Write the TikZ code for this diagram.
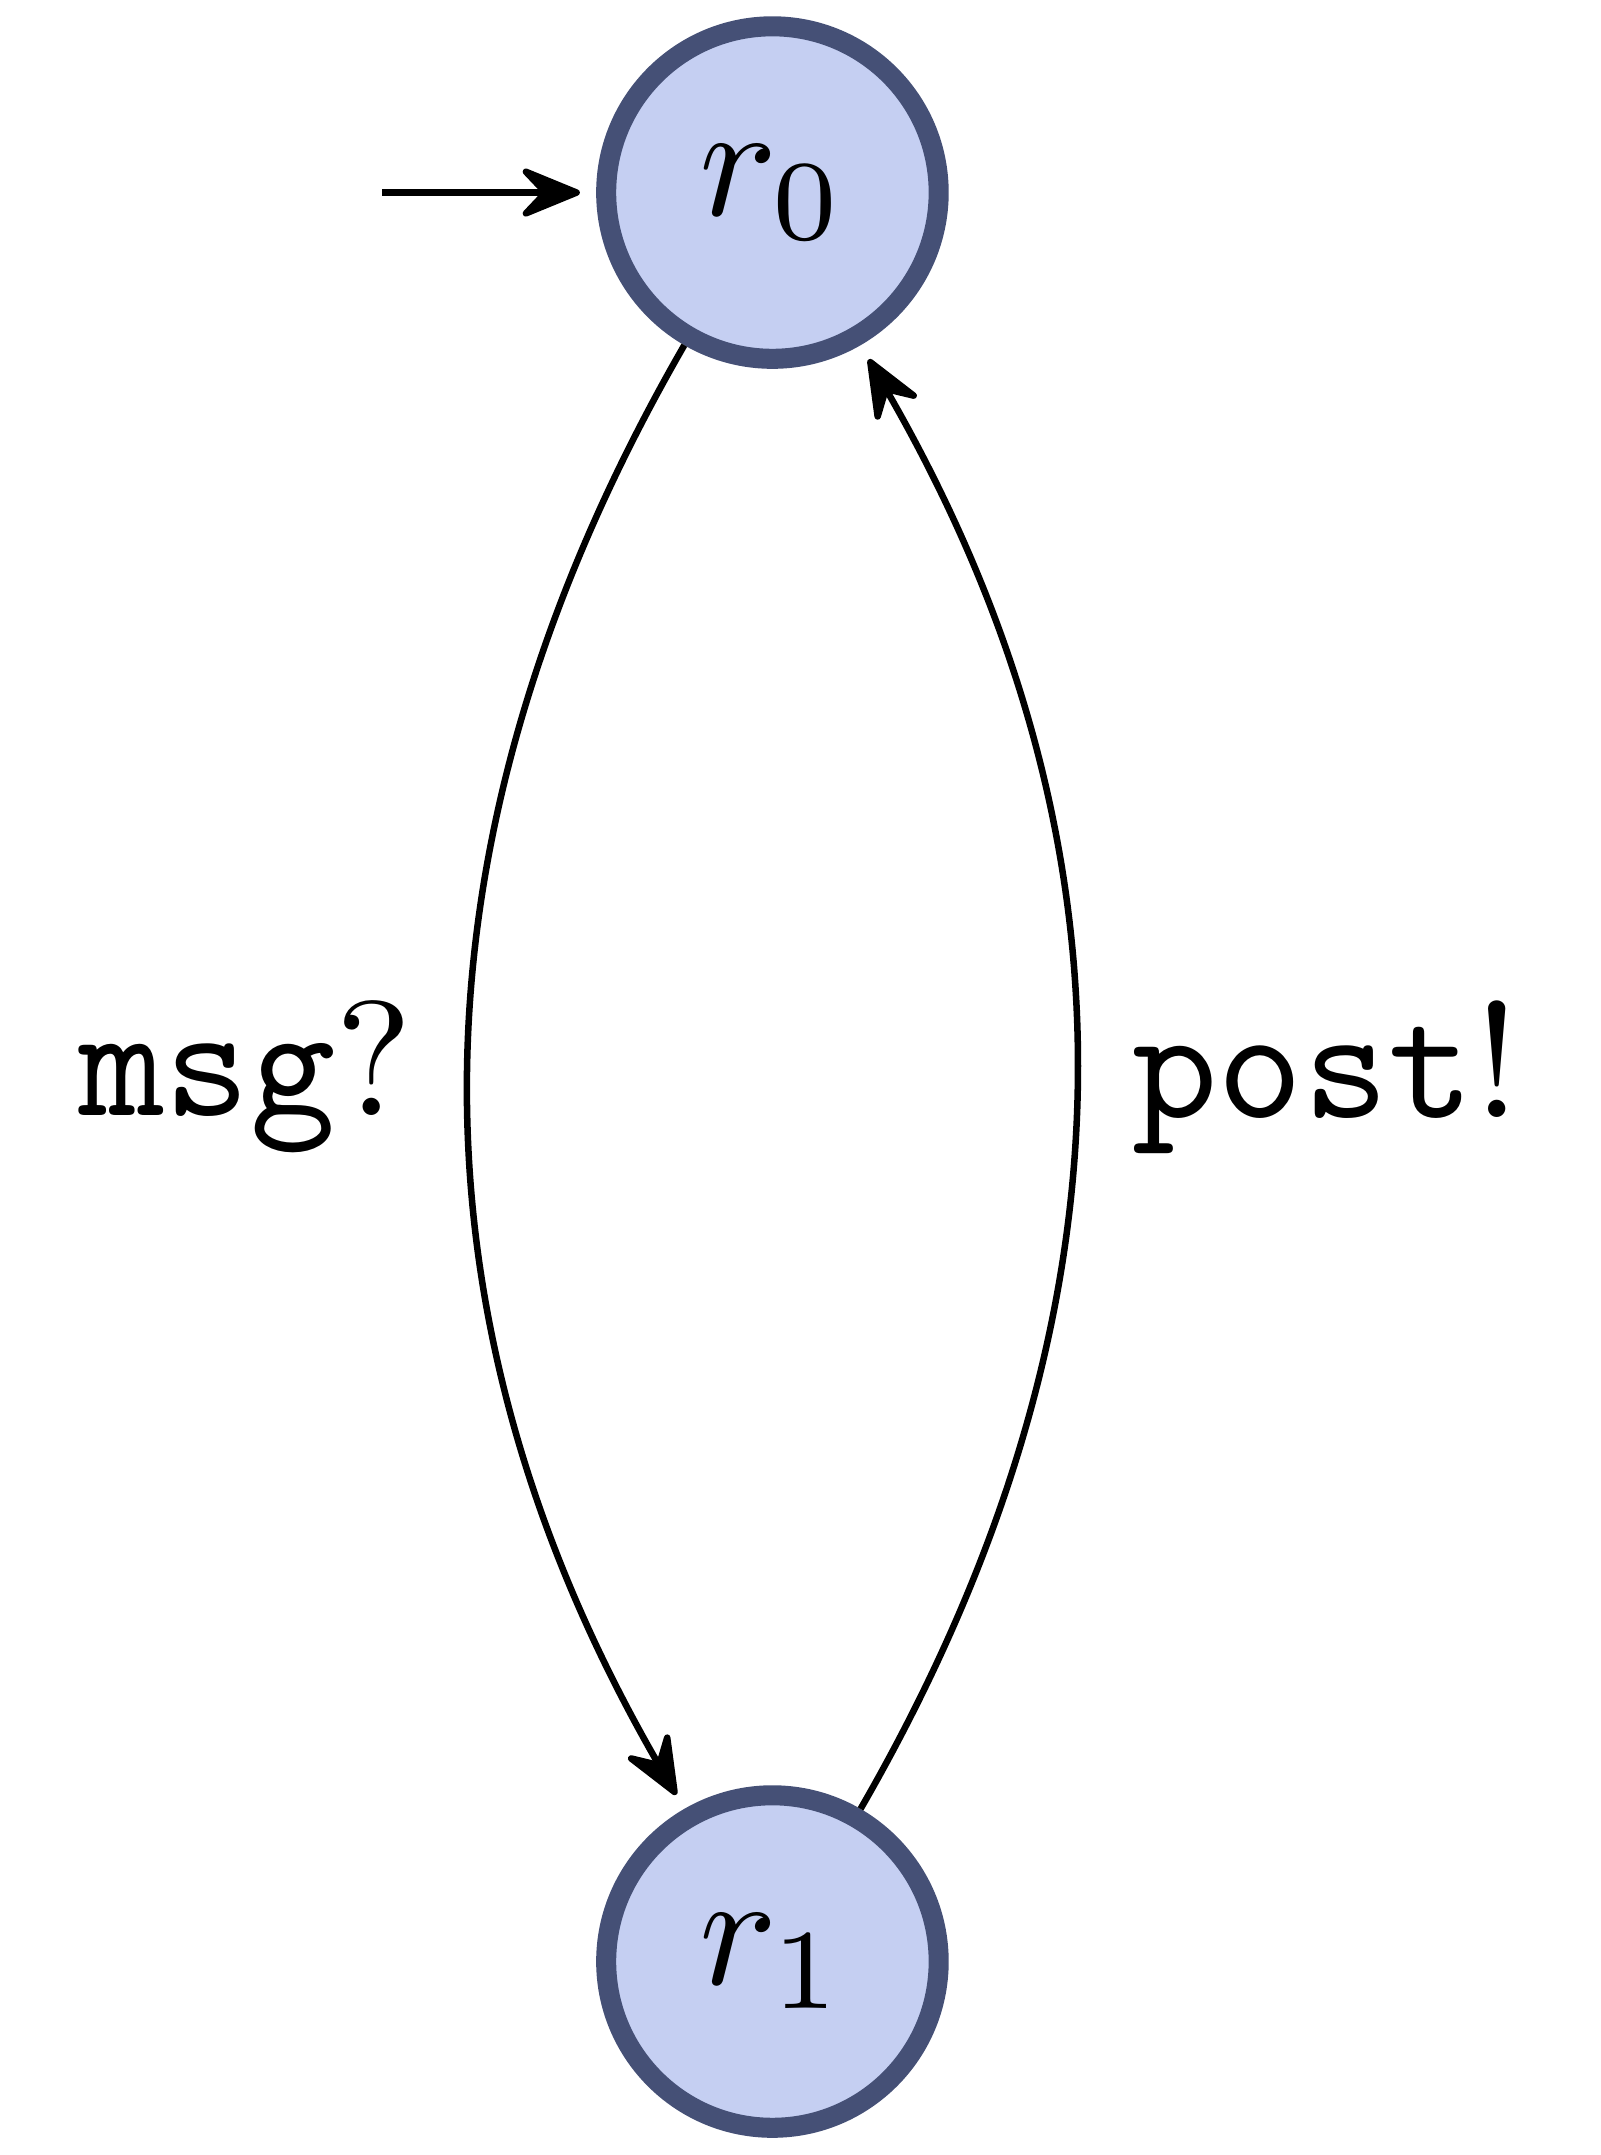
\documentclass[tikz,border=0pt]{standalone}
\usepackage{tikz}
\usetikzlibrary{arrows.meta}
\definecolor{statefill}{RGB}{197,207,242}
\definecolor{stateline}{RGB}{69,80,118}

\begin{document}
\begin{tikzpicture}[>={Stealth[length=4.4pt,width=3.6pt,inset=1.7pt,round]},shorten >=1pt]
        \tikzset{loc/.style={circle,draw=stateline,fill=statefill,line width=1.23pt,minimum size=20.4pt,inner sep=0pt}}
        \useasboundingbox (0,0) rectangle (98.22pt,-132.21pt);
        \node[loc] (r0) at(47.39pt,-11.81pt) {$r_0$};
        \node[loc] (r1) at(47.39pt,-120.34pt) {$r_1$};
        \coordinate (start) at(23.45pt,-11.81pt);
        \draw[->] (start)--(r0);
        \draw[->] (r0) to[bend right=30] node[left]{\texttt{msg}?} (r1);
        \draw[->] (r1) to[bend right=30] node[right]{\texttt{post}!} (r0);
    \end{tikzpicture}
\end{document}
